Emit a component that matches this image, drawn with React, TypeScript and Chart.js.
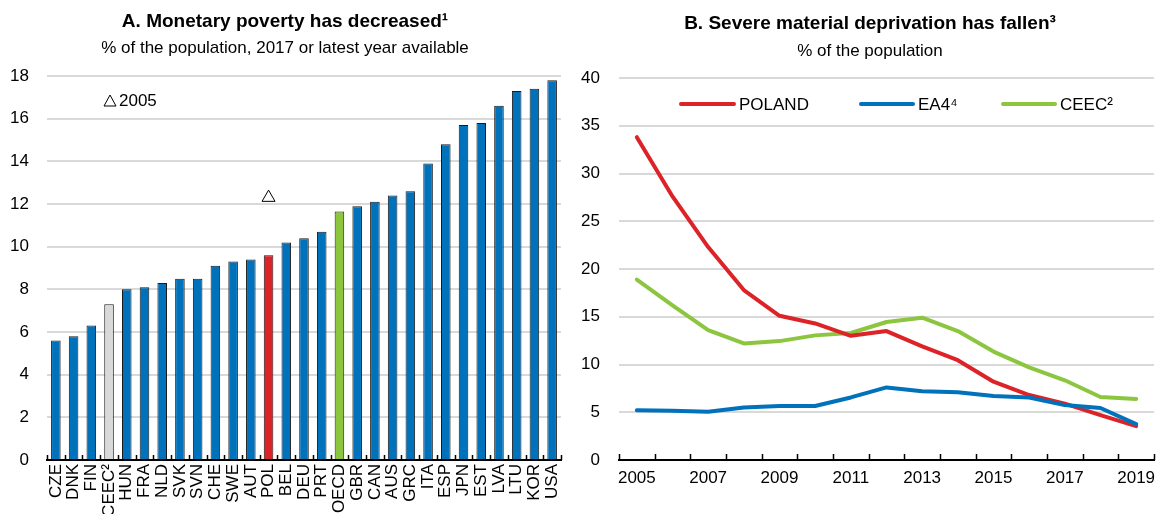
import React, { useEffect, useRef } from "react";
import { Chart, registerables } from "chart.js";

Chart.register(...registerables);

// ---------- Data ----------
const countries = [
  "CZE", "DNK", "FIN", "CEEC²", "HUN", "FRA", "NLD", "SVK", "SVN", "CHE",
  "SWE", "AUT", "POL", "BEL", "DEU", "PRT", "OECD", "GBR", "CAN", "AUS",
  "GRC", "ITA", "ESP", "JPN", "EST", "LVA", "LTU", "KOR", "USA",
];
const povertyLatest = [
  5.6, 5.8, 6.3, 7.3, 8.0, 8.1, 8.3, 8.5, 8.5, 9.1,
  9.3, 9.4, 9.6, 10.2, 10.4, 10.7, 11.65, 11.9, 12.1, 12.4,
  12.6, 13.9, 14.8, 15.7, 15.8, 16.6, 17.3, 17.4, 17.8,
];
const poverty2005Country = "POL";
const poverty2005Value = 12.3;
const povertyTicks = [0, 2, 4, 6, 8, 10, 12, 14, 16, 18];

const years = [
  "2005", "2006", "2007", "2008", "2009", "2010", "2011", "2012",
  "2013", "2014", "2015", "2016", "2017", "2018", "2019",
];
const polandDeprivation = [33.8, 27.6, 22.3, 17.8, 15.1, 14.3, 13.0, 13.5, 11.9, 10.45, 8.2, 6.8, 5.9, 4.7, 3.55];
const ea4Deprivation = [5.2, 5.15, 5.05, 5.5, 5.65, 5.65, 6.55, 7.6, 7.2, 7.1, 6.7, 6.55, 5.75, 5.45, 3.75];
const ceecDeprivation = [18.9, 16.2, 13.6, 12.2, 12.45, 13.05, 13.3, 14.45, 14.9, 13.5, 11.35, 9.7, 8.35, 6.6, 6.4];
const deprivationTicks = [0, 5, 10, 15, 20, 25, 30, 35, 40];

// ---------- Styles ----------
const FONT = "'Liberation Sans Narrow', 'Arial Narrow', 'Liberation Sans', Arial, sans-serif";
const BLUE = "#0072BC";
const RED = "#DC2328";
const GREEN = "#8CC63F";
const GREY = "#D9D9D9";
const GRID = "#D9D9D9";
const TXT = 17;

Chart.defaults.font.family = FONT;
Chart.defaults.color = "#000";

function barColour(c: string) {
  if (c === "POL") return RED;
  if (c === "OECD") return GREEN;
  if (c === "CEEC²") return GREY;
  return BLUE;
}

function titlePlugin(id: string, title: string, subtitle: string, cx: number, ty: number, sy: number) {
  return {
    id,
    afterDraw(chart: any) {
      const ctx = chart.ctx;
      ctx.save();
      ctx.fillStyle = "#000";
      ctx.textAlign = "center";
      ctx.textBaseline = "alphabetic";
      ctx.font = `bold 19px ${FONT}`;
      ctx.fillText(title, cx, ty);
      ctx.font = `${TXT}px ${FONT}`;
      ctx.fillText(subtitle, cx, sy);
      ctx.restore();
    },
  };
}

function innerTicksPlugin(id: string, len: number) {
  return {
    id,
    afterDraw(chart: any) {
      const xs = chart.scales.x;
      const n = xs.getLabels().length;
      const step = xs.getPixelForValue(1) - xs.getPixelForValue(0);
      const bottom = chart.chartArea.bottom;
      const ctx = chart.ctx;
      ctx.save();
      ctx.strokeStyle = "#000";
      ctx.lineWidth = 1.5;
      ctx.beginPath();
      for (let i = 0; i <= n; i++) {
        const x = Math.round(xs.getPixelForValue(i) - step / 2) + 0.5;
        ctx.moveTo(x, bottom);
        ctx.lineTo(x, bottom - len);
      }
      ctx.stroke();
      ctx.restore();
    },
  };
}

const legendAPlugin = {
  id: "legendA",
  afterDraw(chart: any) {
    const { ctx, chartArea } = chart;
    const cx = chartArea.left + 63;
    const cy = chartArea.top + 25;
    ctx.save();
    ctx.strokeStyle = "#000";
    ctx.lineWidth = 1;
    ctx.beginPath();
    ctx.moveTo(cx, cy - 6);
    ctx.lineTo(cx + 6, cy + 5);
    ctx.lineTo(cx - 6, cy + 5);
    ctx.closePath();
    ctx.stroke();
    ctx.fillStyle = "#000";
    ctx.font = `${TXT}px ${FONT}`;
    ctx.textBaseline = "middle";
    ctx.textAlign = "left";
    ctx.fillText("2005", cx + 9, cy);
    ctx.restore();
  },
};

const legendBItems = [
  { label: "POLAND", colour: RED, x1: 62, x2: 115, tx: 120 },
  { label: "EA4⁴", colour: BLUE, x1: 242, x2: 294, tx: 299 },
  { label: "CEEC²", colour: GREEN, x1: 384, x2: 436, tx: 441 },
];

const legendBPlugin = {
  id: "legendB",
  afterDraw(chart: any) {
    const { ctx, chartArea } = chart;
    const y = chartArea.top + 26;
    ctx.save();
    ctx.lineCap = "round";
    ctx.lineWidth = 4;
    ctx.font = `${TXT}px ${FONT}`;
    ctx.textBaseline = "middle";
    ctx.textAlign = "left";
    for (const it of legendBItems) {
      ctx.strokeStyle = it.colour;
      ctx.beginPath();
      ctx.moveTo(chartArea.left + it.x1, y);
      ctx.lineTo(chartArea.left + it.x2, y);
      ctx.stroke();
      ctx.fillStyle = "#000";
      ctx.fillText(it.label, chartArea.left + it.tx, y + 1);
    }
    ctx.restore();
  },
};

function fitX(s: any) {
  s.height = 54;
  s.paddingLeft = 0;
  s.paddingRight = 0;
}

function PanelA() {
  const ref = useRef<HTMLCanvasElement>(null);
  useEffect(() => {
    const chart = new Chart(ref.current!, {
      type: "bar",
      data: {
        labels: countries,
        datasets: [
          {
            type: "line",
            data: [{ x: poverty2005Country, y: poverty2005Value }] as any,
            showLine: false,
            pointStyle: "triangle",
            pointRadius: 7.5,
            pointBackgroundColor: "#fff",
            pointBorderColor: "#000",
            pointBorderWidth: 1,
          } as any,
          {
            type: "bar",
            data: povertyLatest,
            backgroundColor: countries.map(barColour),
            borderColor: "#1a1a1a",
            borderWidth: 1,
            barPercentage: 0.54,
            categoryPercentage: 1,
          },
        ],
      },
      options: {
        responsive: false,
        animation: false,
        layout: { padding: { top: 76, right: 9, left: 0, bottom: 0 } },
        plugins: { legend: { display: false }, tooltip: { enabled: false }, title: { display: false } },
        scales: {
          x: {
            type: "category",
            offset: true,
            grid: { display: false, drawTicks: false, offset: true },
            border: { display: true, color: "#000", width: 2 },
            ticks: {
              autoSkip: false,
              minRotation: 90,
              maxRotation: 90,
              padding: 4,
              font: { size: 17 },
              color: "#000",
            },
            afterFit: fitX,
          },
          y: {
            min: 0,
            max: 18,
            afterBuildTicks: (s: any) => { s.ticks = povertyTicks.map((v) => ({ value: v })); },
            grid: { color: GRID, lineWidth: 2, drawTicks: false },
            border: { display: false },
            ticks: { padding: 18, font: { size: TXT }, color: "#000" },
            afterFit: (s: any) => { s.width = 47; },
          },
        },
      },
      plugins: [
        titlePlugin("titleA", "A. Monetary poverty has decreased¹", "% of the population, 2017 or latest year available", 285, 27, 53),
        innerTicksPlugin("ticksA", 5),
        legendAPlugin,
      ],
    } as any);
    return () => chart.destroy();
  }, []);
  return <canvas ref={ref} width={570} height={514} style={{ position: "absolute", left: 0, top: 0 }} />;
}

function PanelB() {
  const ref = useRef<HTMLCanvasElement>(null);
  useEffect(() => {
    const chart = new Chart(ref.current!, {
      type: "line",
      data: {
        labels: years,
        datasets: [
          { label: "EA4", data: ea4Deprivation, borderColor: BLUE },
          { label: "POLAND", data: polandDeprivation, borderColor: RED },
          { label: "CEEC", data: ceecDeprivation, borderColor: GREEN },
        ].map((d) => ({
          ...d,
          borderWidth: 4,
          pointRadius: 0,
          tension: 0,
          fill: false,
          borderJoinStyle: "round",
          borderCapStyle: "round",
        })),
      },
      options: {
        responsive: false,
        animation: false,
        layout: { padding: { top: 78, right: 3, left: 0, bottom: 0 } },
        plugins: { legend: { display: false }, tooltip: { enabled: false }, title: { display: false } },
        scales: {
          x: {
            type: "category",
            offset: true,
            grid: { display: false, drawTicks: false, offset: true },
            border: { display: true, color: "#000", width: 2 },
            ticks: {
              autoSkip: false,
              maxRotation: 0,
              minRotation: 0,
              padding: 8,
              font: { size: TXT },
              color: "#000",
              callback: (_v: any, i: number) => (i % 2 === 0 ? years[i] : ""),
            },
            afterFit: fitX,
          },
          y: {
            min: 0,
            max: 40,
            afterBuildTicks: (s: any) => { s.ticks = deprivationTicks.map((v) => ({ value: v })); },
            grid: { color: GRID, lineWidth: 2, drawTicks: false },
            border: { display: false },
            ticks: { padding: 19, font: { size: TXT }, color: "#000" },
            afterFit: (s: any) => { s.width = 44; },
          },
        },
      },
      plugins: [
        titlePlugin("titleB", "B. Severe material deprivation has fallen³", "% of the population", 295, 29, 56),
        innerTicksPlugin("ticksB", 6),
        legendBPlugin,
      ],
    } as any);
    return () => chart.destroy();
  }, []);
  return <canvas ref={ref} width={582} height={514} style={{ position: "absolute", left: 575, top: 0 }} />;
}

export default function App() {
  return (
    <div style={{ position: "absolute", left: 0, top: 0, width: 1157, height: 514, background: "#fff" }}>
      <PanelA />
      <PanelB />
    </div>
  );
}
